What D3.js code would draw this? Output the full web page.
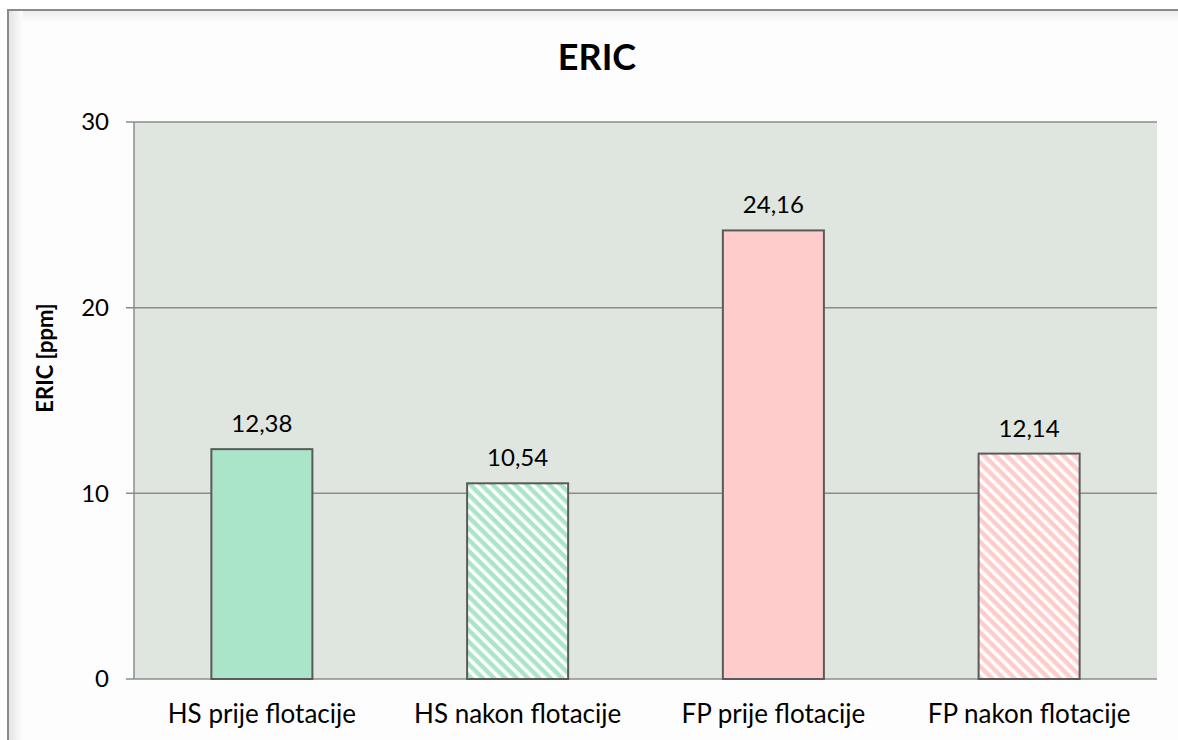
<!DOCTYPE html>
<html>
<head>
<meta charset="utf-8">
<script src="https://cdn.jsdelivr.net/npm/d3@7"></script>
<style>
  body { margin: 0; background: #fff; overflow: hidden; }
  #chart svg { display: block; font-family: Lato, "Open Sans", sans-serif; }
</style>
</head>
<body>
<div id="chart"></div>
<script>
// chart values
const categories = ["HS prije flotacije", "HS nakon flotacije", "FP prije flotacije", "FP nakon flotacije"];
const values = [12.38, 10.54, 24.16, 12.14];
const labels = ["12,38", "10,54", "24,16", "12,14"];
const yTicks = [0, 10, 20, 30];
const fills = ["solid-green", "hatch-green", "solid-pink", "hatch-pink"];

const width = 1178, height = 740;
const plot = { left: 134, right: 1157, top: 122, bottom: 679 };

const svg = d3.select("#chart")
  .append("svg")
  .attr("width", width)
  .attr("height", height);

const defs = svg.append("defs");

// soft shading inside the frame
const gradL = defs.append("linearGradient").attr("id", "shadeL").attr("x1", 0).attr("x2", 1);
gradL.append("stop").attr("offset", 0).attr("stop-color", "#e4e4e4");
gradL.append("stop").attr("offset", 1).attr("stop-color", "#fdfdfd");
const gradT = defs.append("linearGradient").attr("id", "shadeT").attr("x1", 0).attr("x2", 0).attr("y1", 0).attr("y2", 1);
gradT.append("stop").attr("offset", 0).attr("stop-color", "#ececec");
gradT.append("stop").attr("offset", 1).attr("stop-color", "#fdfdfd");

// hatch patterns (wide downward diagonal)
function hatch(id, color) {
  const p = defs.append("pattern")
    .attr("id", id)
    .attr("patternUnits", "userSpaceOnUse")
    .attr("width", 8)
    .attr("height", 8)
    .attr("patternTransform", "rotate(45)");
  p.append("rect").attr("width", 8).attr("height", 8).attr("fill", "#ffffff");
  p.append("rect").attr("width", 8).attr("height", 4.5).attr("fill", color);
}
hatch("hatch-green", "#abe5c9");
hatch("hatch-pink", "#ffcccc");

const fillColor = {
  "solid-green": "#abe5c9",
  "hatch-green": "url(#hatch-green)",
  "solid-pink": "#ffcccc",
  "hatch-pink": "url(#hatch-pink)"
};

// outer frame (only top and left edges are inside the window)
svg.append("rect")
  .attr("x", 9).attr("y", 11)
  .attr("width", width).attr("height", height)
  .attr("fill", "#fdfdfd");
svg.append("rect")
  .attr("x", 9).attr("y", 11)
  .attr("width", width).attr("height", 12)
  .attr("fill", "url(#shadeT)");
svg.append("rect")
  .attr("x", 9).attr("y", 11)
  .attr("width", 14).attr("height", height)
  .attr("fill", "url(#shadeL)");
svg.append("path")
  .attr("d", `M8,${height} V10 H${width}`)
  .attr("fill", "none")
  .attr("stroke", "#8a8a8a")
  .attr("stroke-width", 2);

const x = d3.scaleBand()
  .domain(categories)
  .range([plot.left, plot.right])
  .paddingInner(0.605)
  .paddingOuter(0.3025);

const y = d3.scaleLinear()
  .domain([0, 30])
  .range([plot.bottom, plot.top]);

// plot background
svg.append("rect")
  .attr("x", plot.left)
  .attr("y", plot.top)
  .attr("width", plot.right - plot.left)
  .attr("height", plot.bottom - plot.top)
  .attr("fill", "#dfe5df");

// gridlines
svg.append("g")
  .selectAll("line")
  .data(yTicks)
  .enter()
  .append("line")
  .attr("x1", plot.left - 8)
  .attr("x2", plot.right)
  .attr("y1", d => y(d))
  .attr("y2", d => y(d))
  .attr("stroke", "#8c8c8c")
  .attr("stroke-width", 1.5);

// y axis line
svg.append("line")
  .attr("x1", plot.left).attr("x2", plot.left)
  .attr("y1", plot.top).attr("y2", plot.bottom)
  .attr("stroke", "#8c8c8c")
  .attr("stroke-width", 1.5);

// y tick labels
svg.append("g")
  .selectAll("text")
  .data(yTicks)
  .enter()
  .append("text")
  .attr("x", plot.left - 25)
  .attr("y", d => y(d))
  .attr("dy", "0.35em")
  .attr("text-anchor", "end")
  .attr("font-size", 24)
  .attr("fill", "#000")
  .text(d => d);

// bars
svg.append("g")
  .selectAll("rect")
  .data(values)
  .enter()
  .append("rect")
  .attr("x", (d, i) => x(categories[i]))
  .attr("y", d => y(d))
  .attr("width", x.bandwidth())
  .attr("height", d => y(0) - y(d))
  .attr("fill", (d, i) => fillColor[fills[i]])
  .attr("stroke", "#5a5a5a")
  .attr("stroke-width", 2);

// value labels
svg.append("g")
  .selectAll("text")
  .data(values)
  .enter()
  .append("text")
  .attr("x", (d, i) => x(categories[i]) + x.bandwidth() / 2)
  .attr("y", d => y(d) - 17)
  .attr("text-anchor", "middle")
  .attr("font-size", 24)
  .attr("fill", "#000")
  .text((d, i) => labels[i]);

// category labels
svg.append("g")
  .selectAll("text")
  .data(categories)
  .enter()
  .append("text")
  .attr("x", d => x(d) + x.bandwidth() / 2)
  .attr("y", 723)
  .attr("text-anchor", "middle")
  .attr("font-size", 26)
  .attr("fill", "#000")
  .text(d => d);

// title
svg.append("text")
  .attr("x", 597)
  .attr("y", 70)
  .attr("text-anchor", "middle")
  .attr("font-size", 36)
  .attr("font-weight", "bold")
  .attr("fill", "#000")
  .text("ERIC");

// y axis title
svg.append("text")
  .attr("transform", "translate(53, 358) rotate(-90)")
  .attr("text-anchor", "middle")
  .attr("font-size", 22)
  .attr("font-weight", "bold")
  .attr("fill", "#000")
  .text("ERIC [ppm]");
</script>
</body>
</html>
